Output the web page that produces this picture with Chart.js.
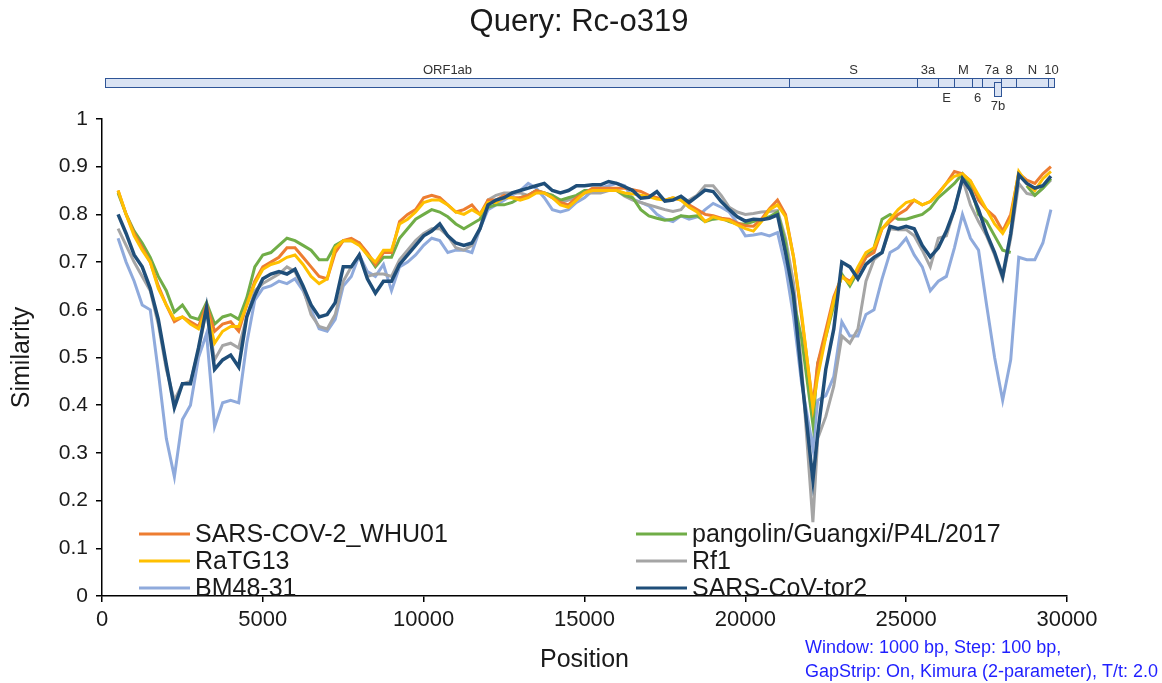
<!DOCTYPE html>
<html>
<head>
<meta charset="utf-8">
<script src="https://cdn.jsdelivr.net/npm/chart.js@4.4.0/dist/chart.umd.min.js"></script>
<style>
  html, body { margin: 0; padding: 0; background: #fff; }
</style>
</head>
<body>
<canvas id="myChart" width="1162" height="683"></canvas>
<script>
const FONT = '"Liberation Sans", Arial, sans-serif';

// window centres (bp)
const positions = [
  500, 750, 1000, 1250, 1500, 1750, 2000, 2250, 2500, 2750,
  3000, 3250, 3500, 3750, 4000, 4250, 4500, 4750, 5000, 5250,
  5500, 5750, 6000, 6250, 6500, 6750, 7000, 7250, 7500, 7750,
  8000, 8250, 8500, 8750, 9000, 9250, 9500, 9750, 10000, 10250,
  10500, 10750, 11000, 11250, 11500, 11750, 12000, 12250, 12500, 12750,
  13000, 13250, 13500, 13750, 14000, 14250, 14500, 14750, 15000, 15250,
  15500, 15750, 16000, 16250, 16500, 16750, 17000, 17250, 17500, 17750,
  18000, 18250, 18500, 18750, 19000, 19250, 19500, 19750, 20000, 20250,
  20500, 20750, 21000, 21250, 21500, 21750, 22100, 22250, 22500, 22750,
  23000, 23250, 23500, 23750, 24000, 24250, 24500, 24750, 25000, 25250,
  25500, 25750, 26000, 26250, 26500, 26750, 27000, 27250, 27500, 27750,
  28000, 28250, 28500, 28750, 29000, 29250, 29500
];

const whu01 = [
  0.85, 0.80, 0.76, 0.73, 0.70, 0.65, 0.61, 0.575, 0.585, 0.575,
  0.565, 0.61, 0.555, 0.57, 0.575, 0.555, 0.61, 0.66, 0.69, 0.70,
  0.71, 0.73, 0.73, 0.71, 0.69, 0.67, 0.665, 0.72, 0.745, 0.75,
  0.74, 0.72, 0.695, 0.72, 0.72, 0.785, 0.80, 0.81, 0.835, 0.84,
  0.835, 0.82, 0.805, 0.81, 0.82, 0.80, 0.83, 0.83, 0.84, 0.835,
  0.835, 0.84, 0.85, 0.845, 0.835, 0.825, 0.82, 0.835, 0.845, 0.855,
  0.855, 0.855, 0.855, 0.855, 0.852, 0.848, 0.84, 0.835, 0.83, 0.835,
  0.83, 0.82, 0.81, 0.80, 0.797, 0.792, 0.79, 0.782, 0.776, 0.775,
  0.79, 0.812, 0.83, 0.80, 0.71, 0.585, 0.40, 0.488, 0.557, 0.627,
  0.67, 0.66, 0.68, 0.71, 0.72, 0.77, 0.785, 0.80, 0.81, 0.83,
  0.82, 0.827, 0.845, 0.865, 0.89, 0.885, 0.87, 0.83, 0.81, 0.795,
  0.765, 0.80, 0.886, 0.872, 0.865, 0.885, 0.90
];

const ratg13 = [
  0.85, 0.80, 0.755, 0.725, 0.70, 0.645, 0.61, 0.58, 0.585, 0.57,
  0.56, 0.60, 0.53, 0.555, 0.565, 0.565, 0.61, 0.655, 0.685, 0.695,
  0.70, 0.71, 0.715, 0.695, 0.67, 0.655, 0.665, 0.73, 0.745, 0.745,
  0.735, 0.715, 0.70, 0.725, 0.725, 0.78, 0.79, 0.805, 0.825, 0.83,
  0.83, 0.82, 0.805, 0.80, 0.81, 0.80, 0.825, 0.825, 0.835, 0.835,
  0.83, 0.835, 0.845, 0.845, 0.835, 0.82, 0.815, 0.83, 0.845, 0.85,
  0.85, 0.85, 0.85, 0.845, 0.843, 0.84, 0.837, 0.832, 0.83, 0.835,
  0.83, 0.815, 0.805, 0.785, 0.795, 0.79, 0.787, 0.778, 0.77, 0.765,
  0.785, 0.81, 0.82, 0.795, 0.71, 0.592, 0.395, 0.46, 0.543, 0.62,
  0.67, 0.655, 0.69, 0.72, 0.73, 0.77, 0.79, 0.81, 0.825, 0.83,
  0.82, 0.827, 0.843, 0.865, 0.88, 0.885, 0.87, 0.84, 0.81, 0.78,
  0.76, 0.79, 0.89, 0.865, 0.85, 0.875, 0.89
];

const pangolin = [
  0.845, 0.80, 0.765, 0.74, 0.71, 0.67, 0.64, 0.595, 0.61, 0.585,
  0.58, 0.615, 0.57, 0.585, 0.59, 0.58, 0.625, 0.69, 0.715, 0.72,
  0.735, 0.75, 0.745, 0.735, 0.725, 0.705, 0.705, 0.735, 0.745, 0.745,
  0.74, 0.715, 0.69, 0.71, 0.71, 0.75, 0.77, 0.79, 0.80, 0.81,
  0.805, 0.795, 0.78, 0.77, 0.78, 0.79, 0.815, 0.82, 0.82, 0.825,
  0.835, 0.84, 0.85, 0.845, 0.84, 0.83, 0.835, 0.84, 0.85, 0.85,
  0.85, 0.85, 0.85, 0.84, 0.835, 0.81, 0.797, 0.792, 0.788, 0.79,
  0.797, 0.795, 0.797, 0.785, 0.79, 0.792, 0.785, 0.78, 0.78, 0.785,
  0.79, 0.795, 0.805, 0.74, 0.62, 0.54, 0.36, 0.488, 0.543, 0.61,
  0.675, 0.65, 0.68, 0.71, 0.73, 0.79, 0.80, 0.79, 0.79, 0.795,
  0.80, 0.813, 0.835, 0.85, 0.865, 0.885, 0.86, 0.80, 0.785, 0.755,
  0.725, 0.72, null, 0.86, 0.84, 0.855, 0.875
];

const rf1 = [
  0.77, 0.735, 0.70, 0.67, 0.64, 0.57, 0.475, 0.41, 0.445, 0.45,
  0.515, 0.60, 0.495, 0.525, 0.53, 0.52, 0.585, 0.64, 0.655, 0.665,
  0.675, 0.69, 0.68, 0.645, 0.59, 0.565, 0.56, 0.59, 0.66, 0.69,
  0.715, 0.67, 0.675, 0.675, 0.67, 0.705, 0.725, 0.745, 0.76, 0.77,
  0.77, 0.755, 0.73, 0.725, 0.735, 0.77, 0.83, 0.84, 0.845, 0.845,
  0.845, 0.84, 0.85, 0.845, 0.84, 0.825, 0.83, 0.835, 0.845, 0.845,
  0.845, 0.85, 0.85, 0.838, 0.83, 0.825, 0.82, 0.815, 0.81, 0.806,
  0.81, 0.83, 0.84, 0.86, 0.86, 0.84, 0.815, 0.805, 0.80, 0.802,
  0.805, 0.806, 0.808, 0.75, 0.655, 0.48, 0.155, 0.33, 0.376, 0.44,
  0.545, 0.53, 0.56, 0.66, 0.705, 0.72, 0.77, 0.768, 0.768, 0.755,
  0.725, 0.69, 0.75, 0.755, 0.81, 0.875, 0.82, 0.785, 0.755, 0.715,
  0.665, 0.75, 0.865, 0.844, 0.84, 0.855, 0.872
];

const bm4831 = [
  0.75, 0.70, 0.66, 0.61, 0.60, 0.47, 0.33, 0.25, 0.37, 0.40,
  0.50, 0.55, 0.355, 0.405, 0.41, 0.405, 0.53, 0.62, 0.645, 0.65,
  0.66, 0.655, 0.665, 0.64, 0.60, 0.56, 0.555, 0.58, 0.65, 0.67,
  0.715, 0.68, 0.67, 0.695, 0.64, 0.69, 0.70, 0.715, 0.735, 0.75,
  0.745, 0.72, 0.725, 0.725, 0.72, 0.77, 0.81, 0.82, 0.83, 0.84,
  0.85, 0.865, 0.855, 0.835, 0.81, 0.805, 0.81, 0.825, 0.835, 0.85,
  0.855, 0.86, 0.865, 0.86, 0.832, 0.825, 0.818, 0.80, 0.79, 0.785,
  0.797, 0.79, 0.795, 0.81, 0.823, 0.815, 0.805, 0.782, 0.755, 0.757,
  0.76, 0.755, 0.762, 0.69, 0.585, 0.446, 0.31, 0.41, 0.42, 0.46,
  0.575, 0.545, 0.545, 0.59, 0.60, 0.665, 0.72, 0.73, 0.75, 0.715,
  0.69, 0.64, 0.66, 0.67, 0.73, 0.80, 0.75, 0.725, 0.61, 0.50,
  0.41, 0.495, 0.71, 0.705, 0.705, 0.74, 0.81
];

const tor2 = [
  0.80, 0.76, 0.715, 0.69, 0.645, 0.58, 0.485, 0.395, 0.445, 0.445,
  0.52, 0.605, 0.475, 0.495, 0.505, 0.48, 0.585, 0.63, 0.665, 0.675,
  0.68, 0.675, 0.685, 0.65, 0.61, 0.585, 0.59, 0.615, 0.69, 0.69,
  0.715, 0.665, 0.635, 0.66, 0.66, 0.695, 0.715, 0.735, 0.755, 0.765,
  0.78, 0.755, 0.74, 0.735, 0.74, 0.77, 0.82, 0.83, 0.835, 0.845,
  0.85, 0.855, 0.86, 0.865, 0.85, 0.845, 0.85, 0.86, 0.86, 0.862,
  0.862, 0.869, 0.865, 0.858, 0.85, 0.834, 0.836, 0.848, 0.828, 0.83,
  0.838, 0.825, 0.838, 0.851, 0.848, 0.827, 0.81, 0.795, 0.786, 0.79,
  0.789, 0.792, 0.799, 0.72, 0.63, 0.46, 0.243, 0.34, 0.475, 0.56,
  0.70, 0.69, 0.665, 0.695, 0.71, 0.72, 0.775, 0.77, 0.775, 0.77,
  0.735, 0.711, 0.73, 0.765, 0.81, 0.875, 0.85, 0.81, 0.76, 0.72,
  0.67, 0.76, 0.883, 0.865, 0.855, 0.86, 0.88
];

// genome map above the plot (bp)
const geneNames = ["ORF1ab", "S", "3a", "E", "M", "6", "7a", "7b", "8", "N", "10"];
const geneStart = [100, 21370, 25345, 25980, 26500, 27050, 27350, 27720, 27950, 28400, 29400];
const geneEnd = [21370, 25345, 25980, 26500, 27050, 27350, 27950, 27960, 28400, 29400, 29600];
const geneLabelBelow = [false, false, false, true, false, true, false, true, false, false, false];

const yTicks = ["0", "0.1", "0.2", "0.3", "0.4", "0.5", "0.6", "0.7", "0.8", "0.9", "1"];

function series(label, values, color, width, order) {
  return {
    label: label,
    data: values.map((v, i) => ({ x: positions[i], y: v })),
    borderColor: color,
    backgroundColor: color,
    borderWidth: width,
    pointRadius: 0,
    tension: 0,
    spanGaps: false,
    order: order,
  };
}

const genomeMap = {
  id: "genomeMap",
  afterDraw(chart) {
    const ctx = chart.ctx;
    const xs = chart.scales.x;
    ctx.save();
    // query name on top
    ctx.font = "31px " + FONT;
    ctx.fillStyle = "#1a1a1a";
    ctx.textAlign = "center";
    ctx.textBaseline = "middle";
    ctx.fillText("Query: Rc-o319", 579, 22);

    ctx.font = "13px " + FONT;
    ctx.lineWidth = 1;
    for (let i = 0; i < geneNames.length; i++) {
      const x0 = Math.round(xs.getPixelForValue(geneStart[i])) + 0.5;
      const x1 = Math.round(xs.getPixelForValue(geneEnd[i])) + 0.5;
      const hang = geneNames[i] === "7b";
      const top = hang ? 82.5 : 78.5;
      const h = hang ? 14 : 9;
      ctx.fillStyle = "#dae3f3";
      ctx.fillRect(x0, top, x1 - x0, h);
      ctx.strokeStyle = "#2f5597";
      ctx.strokeRect(x0, top, x1 - x0, h);
      ctx.fillStyle = "#333";
      const cx = (x0 + x1) / 2;
      const ly = hang ? 106 : geneLabelBelow[i] ? 98 : 70;
      ctx.fillText(geneNames[i], cx, ly);
    }
    ctx.restore();
  },
};

const insideLegend = {
  id: "insideLegend",
  afterDraw(chart) {
    const ctx = chart.ctx;
    ctx.save();
    ctx.font = "25px " + FONT;
    ctx.textBaseline = "middle";
    ctx.textAlign = "left";
    chart.data.datasets.forEach((ds, i) => {
      const col = i % 2;
      const row = Math.floor(i / 2);
      const lx = col === 0 ? 139 : 636;
      const ly = 534 + row * 27;
      ctx.strokeStyle = ds.borderColor;
      ctx.lineWidth = 3;
      ctx.beginPath();
      ctx.moveTo(lx, ly);
      ctx.lineTo(lx + 51, ly);
      ctx.stroke();
      ctx.fillStyle = "#1a1a1a";
      ctx.fillText(ds.label, lx + 56, ly + 1);
    });
    ctx.restore();
  },
};

const note = {
  id: "note",
  afterDraw(chart) {
    const ctx = chart.ctx;
    ctx.save();
    ctx.font = "18px " + FONT;
    ctx.fillStyle = "#1f1fff";
    ctx.textBaseline = "middle";
    ctx.fillText("Window: 1000 bp, Step: 100 bp,", 805, 648);
    ctx.fillText("GapStrip: On, Kimura (2-parameter), T/t: 2.0", 805, 672);
    ctx.restore();
  },
};

const config = {
  type: "line",
  data: {
    datasets: [
      series("SARS-COV-2_WHU01", whu01, "#ed7d31", 3, 2),
      series("pangolin/Guangxi/P4L/2017", pangolin, "#70ad47", 3, 3),
      series("RaTG13", ratg13, "#ffc000", 3, 1),
      series("Rf1", rf1, "#a5a5a5", 3, 4),
      series("BM48-31", bm4831, "#8faadc", 3, 5),
      series("SARS-CoV-tor2", tor2, "#1f4e79", 3.5, 0),
    ],
  },
  options: {
    responsive: false,
    animation: false,
    devicePixelRatio: 1,
    layout: { padding: { left: 0, right: 95, top: 119, bottom: 0 } },
    plugins: {
      legend: { display: false },
      tooltip: { enabled: false },
    },
    scales: {
      x: {
        type: "linear",
        min: 0,
        max: 30000,
        afterFit: (s) => { s.height = 87; },
        ticks: {
          stepSize: 5000,
          color: "#1a1a1a",
          padding: 5,
          font: { family: FONT, size: 22 },
          callback: (v) => String(v),
        },
        grid: { display: true, drawOnChartArea: false, drawTicks: true, tickLength: 6, color: "#000", lineWidth: 1.5 },
        border: { display: true, color: "#000", width: 1.5 },
        title: {
          display: true,
          text: "Position",
          color: "#1a1a1a",
          font: { family: FONT, size: 25 },
          padding: { top: 0, bottom: 8 },
        },
      },
      y: {
        min: 0,
        max: 1,
        afterFit: (s) => { s.width = 102; },
        ticks: {
          stepSize: 0.1,
          color: "#1a1a1a",
          padding: 8,
          font: { family: FONT, size: 21 },
          callback: (v) => yTicks[Math.round(v * 10)],
        },
        grid: { display: true, drawOnChartArea: false, drawTicks: true, tickLength: 6, color: "#000", lineWidth: 1.5 },
        border: { display: true, color: "#000", width: 1.5 },
        title: {
          display: true,
          text: "Similarity",
          color: "#1a1a1a",
          font: { family: FONT, size: 25 },
          padding: { top: 7, bottom: 0 },
        },
      },
    },
  },
  plugins: [genomeMap, insideLegend, note],
};

const myChart = new Chart(document.getElementById("myChart"), config);
</script>
</body>
</html>
